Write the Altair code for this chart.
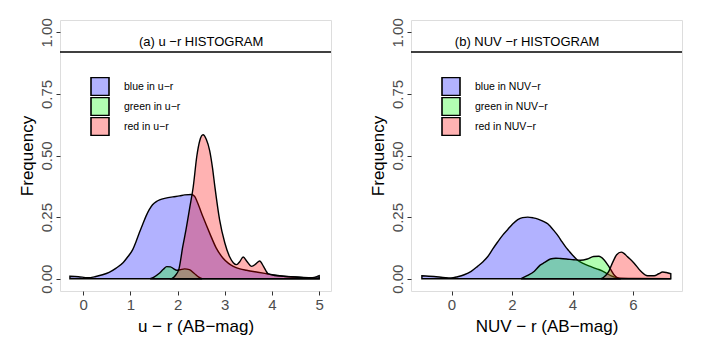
import altair as alt
import pandas as pd

# ---------------- data ----------------
ur_labels = ["blue in u−r", "green in u−r", "red in u−r"]
nuv_labels = ["blue in NUV−r", "green in NUV−r", "red in NUV−r"]

ur_blue_x = [-0.28, -0.1, 0.1, 0.25, 0.41, 0.55, 0.70, 0.85, 0.95, 1.05, 1.12, 1.19, 1.26, 1.33, 1.40, 1.47,
             1.55, 1.62, 1.75, 1.9, 2.04, 2.15, 2.29, 2.36, 2.42, 2.54, 2.68, 2.82, 2.96, 3.08, 3.18, 3.32,
             3.46, 3.7, 3.89, 4.05, 4.24, 4.6, 4.85, 4.95, 5.0]
ur_blue_y = [0.01, 0.008, 0.004, 0.008, 0.016, 0.026, 0.043, 0.066, 0.09, 0.118, 0.15, 0.186, 0.22, 0.253, 0.28, 0.30,
             0.313, 0.32, 0.327, 0.332, 0.336, 0.34, 0.342, 0.335, 0.31, 0.25, 0.185, 0.124, 0.084, 0.062, 0.05, 0.04,
             0.034, 0.026, 0.02, 0.015, 0.01, 0.006, 0.004, 0.008, 0.012]

ur_green_x = [1.42, 1.5, 1.6, 1.7, 1.77, 1.85, 1.92, 1.98, 2.05, 2.15, 2.25, 2.35, 2.45, 2.52]
ur_green_y = [0.0, 0.006, 0.02, 0.038, 0.049, 0.048, 0.04, 0.034, 0.036, 0.04, 0.037, 0.022, 0.006, 0.0]

ur_red_x = [1.88, 1.95, 2.03, 2.11, 2.18, 2.26, 2.33, 2.41, 2.47, 2.54, 2.61, 2.68, 2.74, 2.79, 2.89, 3.0,
            3.1, 3.18, 3.25, 3.32, 3.39, 3.47, 3.57, 3.66, 3.74, 3.82, 3.92, 4.05, 4.24, 4.6, 5.0]
ur_red_y = [0.0, 0.012, 0.04, 0.13, 0.2, 0.29, 0.37, 0.5, 0.56, 0.584, 0.565, 0.52, 0.45, 0.374, 0.24, 0.146,
            0.09, 0.065, 0.057, 0.07, 0.088, 0.07, 0.05, 0.06, 0.072, 0.05, 0.02, 0.013, 0.01, 0.005, 0.003]

nuv_blue_x = [-0.98, -0.58, -0.2, -0.02, 0.2, 0.42, 0.65, 0.86, 1.05, 1.2, 1.36, 1.53, 1.7, 1.86, 2.02, 2.19,
              2.35, 2.52, 2.7, 2.86, 3.02, 3.19, 3.27, 3.4, 3.54, 3.65, 3.76, 3.88, 3.99, 4.15, 4.35, 4.59,
              4.8, 4.98, 5.15, 5.3, 5.5, 6.0, 7.25]
nuv_blue_y = [0.012, 0.009, 0.004, 0.003, 0.008, 0.016, 0.03, 0.05, 0.07, 0.09, 0.12, 0.15, 0.178, 0.2, 0.222, 0.24,
              0.248, 0.25, 0.247, 0.242, 0.234, 0.222, 0.212, 0.193, 0.171, 0.15, 0.131, 0.113, 0.097, 0.077, 0.062, 0.05,
              0.04, 0.032, 0.02, 0.01, 0.003, 0.001, 0.0]

nuv_green_x = [2.3, 2.5, 2.74, 2.93, 3.08, 3.27, 3.45, 3.6, 3.8, 4.04, 4.26, 4.49, 4.7, 4.87, 5.04, 5.2, 5.37, 5.53]
nuv_green_y = [0.0, 0.012, 0.03, 0.055, 0.066, 0.08, 0.083, 0.082, 0.08, 0.077, 0.075, 0.08, 0.09, 0.091, 0.077,
               0.05, 0.016, 0.0]

nuv_red_x = [4.95, 5.05, 5.2, 5.32, 5.46, 5.61, 5.7, 5.81, 6.03, 6.26, 6.48, 6.7, 6.85, 6.98, 7.1, 7.25]
nuv_red_y = [0.0, 0.008, 0.03, 0.064, 0.097, 0.108, 0.103, 0.09, 0.064, 0.03, 0.012, 0.012, 0.02, 0.027, 0.025, 0.02]

y_ticks = [0.0, 0.25, 0.5, 0.75, 1.0]
ur_x_ticks = [0, 1, 2, 3, 4, 5]
nuv_x_ticks = [0, 2, 4, 6]
hline_y = [0.92]
titles = ["(a)  u −r  HISTOGRAM", "(b)  NUV −r  HISTOGRAM"]
title_pos = [2.5, 0.96]

fill_range = ["rgba(0,0,255,0.3)", "rgba(0,255,0,0.3)", "rgba(255,0,0,0.3)"]
FONT = "Liberation Sans"

AX = dict(grid=False, domain=False, labelFont=FONT, titleFont=FONT,
          labelFontSize=15, titleFontSize=17, titleFontWeight="normal",
          labelColor="#4d4d4d", titleColor="black", tickColor="#333333", tickSize=4,
          labelPadding=2)


def panel(labels, series, xdom, xticks, xtitle, title):
    rows = []
    for lab, (xs, ys) in zip(labels, series):
        for xv, yv in zip(xs, ys):
            rows.append({"x": xv, "y": yv, "series": lab})
    df = pd.DataFrame(rows)

    xsc = alt.Scale(domain=xdom, nice=False, zero=False)
    ysc = alt.Scale(domain=[-0.05, 1.05], nice=False, zero=False)

    area = alt.Chart(df).mark_area(
        stroke="black", strokeWidth=1.4, interpolate="monotone"
    ).encode(
        x=alt.X("x:Q", scale=xsc,
                axis=alt.Axis(values=xticks, title=xtitle, format="d", titlePadding=6, **AX)),
        y=alt.Y("y:Q", scale=ysc, stack=None,
                axis=alt.Axis(values=y_ticks, format=".2f", labelAngle=-90, title="Frequency",
                              titlePadding=3, **AX)),
        y2=alt.datum(0),
        fill=alt.Fill("series:N", scale=alt.Scale(domain=labels, range=fill_range),
                      legend=alt.Legend(orient="none", legendX=30, legendY=57, title=None,
                                        symbolType="square", symbolSize=324,
                                        symbolStrokeColor="black", symbolStrokeWidth=1.6,
                                        labelFontSize=10.5, labelOffset=14, rowPadding=1,
                                        clipHeight=19,
                                        padding=0, labelColor="black", labelFont=FONT)),
        order=alt.Order("series:N"),
    )

    hl = alt.Chart(pd.DataFrame({"y": hline_y})).mark_rule(color="black", strokeWidth=1.5).encode(
        y=alt.Y("y:Q", scale=ysc)
    )
    tt = alt.Chart(pd.DataFrame({"x": [title_pos[0]], "y": [title_pos[1]], "t": [title]})).mark_text(
        fontSize=13, font=FONT, color="black"
    ).encode(x=alt.X("x:Q", scale=xsc), y=alt.Y("y:Q", scale=ysc), text="t:N")

    return alt.layer(area, hl, tt).properties(width=271, height=271)


left = panel(ur_labels, [(ur_blue_x, ur_blue_y), (ur_green_x, ur_green_y), (ur_red_x, ur_red_y)],
             [-0.49, 5.25], ur_x_ticks, "u − r (AB−mag)", titles[0])
right = panel(nuv_labels, [(nuv_blue_x, nuv_blue_y), (nuv_green_x, nuv_green_y), (nuv_red_x, nuv_red_y)],
              [-1.34, 7.62], nuv_x_ticks, "NUV − r (AB−mag)", titles[1])

chart = alt.hconcat(left, right, spacing=35).resolve_scale(
    fill="independent", x="independent", y="independent"
).resolve_legend(fill="independent").properties(
    padding={"left": 9, "top": 9, "right": 4, "bottom": 4}
).configure_view(
    stroke="#7f7f7f", strokeWidth=1
).configure_axis(
    grid=False, titleFontWeight="normal"
).configure(background="white")

chart.save("out.html", embed_options={"renderer": "svg", "actions": False})
